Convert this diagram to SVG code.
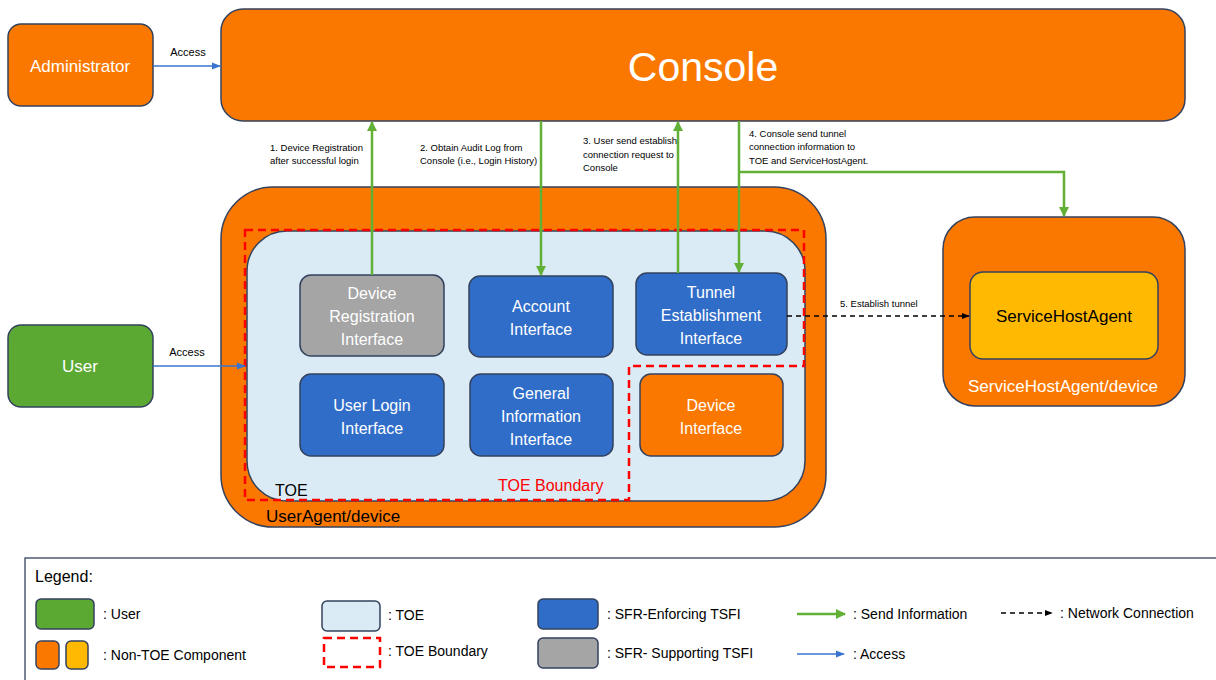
<svg xmlns="http://www.w3.org/2000/svg" width="1216" height="680" viewBox="0 0 1216 680">
<defs>
<marker id="ag" viewBox="0 0 10 10" refX="9" refY="5" markerWidth="4" markerHeight="4" orient="auto-start-reverse"><path d="M0,0 L10,5 L0,10 z" fill="#62B136"/></marker>
<marker id="ab" viewBox="0 0 10 10" refX="9" refY="5" markerWidth="7" markerHeight="7" orient="auto"><path d="M0,1 L10,5 L0,9 z" fill="#3A74CF"/></marker>
<marker id="ak" viewBox="0 0 10 10" refX="9" refY="5" markerWidth="6" markerHeight="6" orient="auto"><path d="M0,1 L10,5 L0,9 z" fill="#000"/></marker>
</defs>
<style>
text{font-family:"Liberation Sans",Arial,sans-serif}
.or{fill:#FA7800;stroke:#34425E;stroke-width:1.5}
.bl{fill:#2F6DC9;stroke:#34425E;stroke-width:1.5}
.gr{fill:#A5A5A5;stroke:#34425E;stroke-width:1.5}
.gn{fill:#5BA832;stroke:#34425E;stroke-width:1.5}
.lt{fill:#DAEBF5;stroke:#34425E;stroke-width:1.5}
.ye{fill:#FFB900;stroke:#34425E;stroke-width:1.5}
.w{fill:#fff;text-anchor:middle}
.n{font-size:16px}
.s{font-size:9.5px;fill:#000}
.lg{font-size:14px;fill:#000}
.g{stroke:#62B136;stroke-width:2.5;fill:none}
.b{stroke:#3A74CF;stroke-width:1.3;fill:none}
.d{stroke:#000;stroke-width:1.3;stroke-dasharray:5,4;fill:none}
.rb{stroke:#FF0000;stroke-width:2.5;stroke-dasharray:8,5;fill:none}
</style>
<rect width="1216" height="680" fill="#fff"/>

<g id="admin"><rect class="or" x="8" y="24" width="145" height="82" rx="13"/><text class="w" x="80" y="72" font-size="17">Administrator</text></g>
<g id="console"><rect class="or" x="221" y="9" width="964" height="112" rx="22"/><text class="w" x="703" y="81" font-size="41">Console</text></g>
<g id="user"><rect class="gn" x="8" y="325" width="145" height="82" rx="13"/><text class="w" x="80" y="372" font-size="17">User</text></g>

<g id="useragent"><rect class="or" x="221" y="187" width="605" height="340" rx="52"/><text x="266" y="522" font-size="17" fill="#000">UserAgent/device</text></g>
<g id="toe"><rect class="lt" x="247" y="231" width="558" height="270" rx="40"/><text x="275" y="496" font-size="16" fill="#000">TOE</text></g>

<g id="dri"><rect class="gr" x="300" y="275" width="144" height="81" rx="11"/><text class="w n"><tspan x="372" y="299">Device</tspan><tspan x="372" y="322">Registration</tspan><tspan x="372" y="345">Interface</tspan></text></g>
<g id="ai"><rect class="bl" x="469" y="276" width="144" height="81" rx="11"/><text class="w n"><tspan x="541" y="312">Account</tspan><tspan x="541" y="335">Interface</tspan></text></g>
<g id="tei"><rect class="bl" x="636" y="273" width="151" height="82" rx="11"/><text class="w n"><tspan x="711" y="298">Tunnel</tspan><tspan x="711" y="321">Establishment</tspan><tspan x="711" y="344">Interface</tspan></text></g>
<g id="uli"><rect class="bl" x="300" y="374" width="144" height="82" rx="11"/><text class="w n"><tspan x="372" y="411">User Login</tspan><tspan x="372" y="434">Interface</tspan></text></g>
<g id="gii"><rect class="bl" x="470" y="374" width="143" height="82" rx="11"/><text class="w n"><tspan x="541" y="399">General</tspan><tspan x="541" y="422">Information</tspan><tspan x="541" y="445">Interface</tspan></text></g>
<g id="di"><rect class="or" x="640" y="374" width="143" height="82" rx="11"/><text class="w n"><tspan x="711" y="411">Device</tspan><tspan x="711" y="434">Interface</tspan></text></g>

<g id="boundary"><path class="rb" d="M245,230 H804 V366 H629 V500 H245 Z"/><text x="498" y="491" font-size="16" fill="#FF0000">TOE Boundary</text></g>

<g id="shadevice"><rect class="or" x="943" y="217" width="242" height="189" rx="32"/><text class="w" x="1063" y="392" font-size="17">ServiceHostAgent/device</text></g>
<g id="sha"><rect class="ye" x="970" y="272" width="188" height="87" rx="13"/><text x="1064" y="322" font-size="17" fill="#000" text-anchor="middle">ServiceHostAgent</text></g>

<g id="connectors">
<line class="b" x1="153" y1="66" x2="220" y2="66" marker-end="url(#ab)"/>
<text x="188" y="56" font-size="11" text-anchor="middle" fill="#000">Access</text>
<line class="b" x1="153" y1="366" x2="245" y2="366" marker-end="url(#ab)"/>
<text x="187" y="356" font-size="11" text-anchor="middle" fill="#000">Access</text>
<line class="g" x1="372" y1="275" x2="372" y2="122" marker-end="url(#ag)"/>
<line class="g" x1="541" y1="121" x2="541" y2="275" marker-end="url(#ag)"/>
<line class="g" x1="678" y1="273" x2="678" y2="122" marker-end="url(#ag)"/>
<line class="g" x1="739" y1="121" x2="739" y2="272" marker-end="url(#ag)"/>
<path class="g" d="M739,172 H1064 V216" marker-end="url(#ag)"/>
<line class="d" x1="787" y1="316" x2="969" y2="316" marker-end="url(#ak)"/>
<text class="s"><tspan x="270" y="151">1. Device Registration</tspan><tspan x="270" y="164">after successful login</tspan></text>
<text class="s"><tspan x="420" y="151">2. Obtain Audit Log from</tspan><tspan x="420" y="164">Console (i.e., Login History)</tspan></text>
<text class="s"><tspan x="583" y="144">3. User send establish</tspan><tspan x="583" y="158">connection request to</tspan><tspan x="583" y="171">Console</tspan></text>
<text class="s"><tspan x="749" y="137">4. Console send tunnel</tspan><tspan x="749" y="150">connection information to</tspan><tspan x="749" y="164">TOE and ServiceHostAgent.</tspan></text>
<text class="s" x="840" y="307">5. Establish tunnel</text>
</g>

<g id="legend">
<rect x="25" y="558" width="1200" height="140" fill="#fff" stroke="#34425E" stroke-width="1.3"/>
<text x="35" y="582" font-size="16" fill="#000">Legend:</text>
<rect class="gn" x="36" y="599" width="58" height="30" rx="5"/><text class="lg" x="103" y="619">: User</text>
<rect class="or" x="36" y="641" width="23" height="28" rx="5"/><rect class="ye" x="66" y="641" width="22" height="28" rx="5"/><text class="lg" x="103" y="660">: Non-TOE Component</text>
<rect class="lt" x="322" y="601" width="58" height="30" rx="5"/><text class="lg" x="388" y="620">: TOE</text>
<rect class="rb" x="324" y="638" width="56" height="29" stroke-width="3.5" stroke-dasharray="8,4"/><text class="lg" x="388" y="656">: TOE Boundary</text>
<rect class="bl" x="538" y="599" width="60" height="30" rx="5"/><text class="lg" x="607" y="619">: SFR-Enforcing TSFI</text>
<rect class="gr" x="538" y="638" width="60" height="30" rx="5"/><text class="lg" x="607" y="658">: SFR- Supporting TSFI</text>
<line class="g" x1="797" y1="614" x2="845" y2="614" marker-end="url(#ag)"/><text class="lg" x="853" y="619">: Send Information</text>
<line class="b" x1="797" y1="654" x2="844" y2="654" marker-end="url(#ab)"/><text class="lg" x="853" y="659">: Access</text>
<line class="d" x1="1001" y1="613" x2="1052" y2="613" marker-end="url(#ak)"/><text class="lg" x="1060" y="618">: Network Connection</text>
</g>
</svg>
